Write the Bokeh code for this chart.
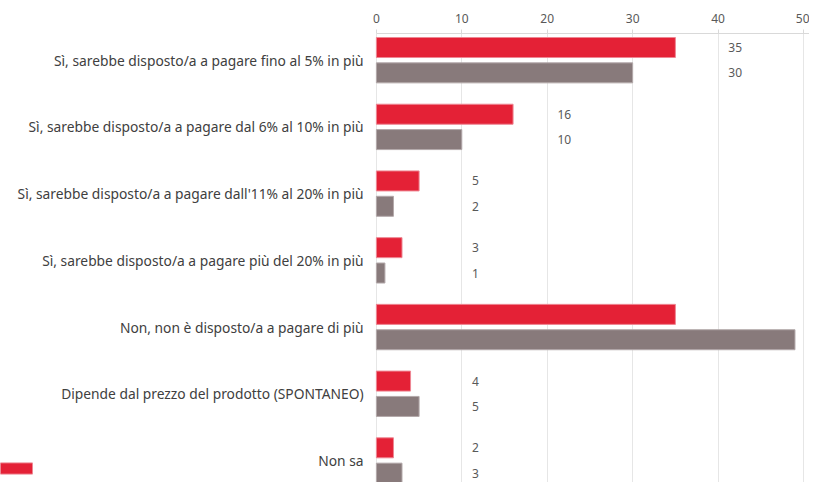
from bokeh.plotting import figure
from bokeh.models import (ColumnDataSource, Range1d, FixedTicker, LinearAxis,
                          Legend, LegendItem)
from bokeh.transform import dodge
from bokeh.core.properties import value
from bokeh.embed import file_html
from bokeh.resources import INLINE

categories = [
    "Sì, sarebbe disposto/a a pagare fino al 5% in più",
    "Sì, sarebbe disposto/a a pagare dal 6% al 10% in più",
    "Sì, sarebbe disposto/a a pagare dall'11% al 20% in più",
    "Sì, sarebbe disposto/a a pagare più del 20% in più",
    "Non, non è disposto/a a pagare di più",
    "Dipende dal prezzo del prodotto (SPONTANEO)",
    "Non sa",
]
red_values = [35, 16, 5, 3, 35, 4, 2]
grey_values = [30, 10, 2, 1, 49, 5, 3]
x_ticks = [0, 10, 20, 30, 40, 50]

RED = "#e42136"
GREY = "#887a7b"
FONT = "Noto Sans"
X_MAX = 50.7

idx = list(range(len(categories)))
src = ColumnDataSource(dict(y=idx, red=red_values, grey=grey_values, cat=categories))

# value labels sit just right of the next gridline; those beyond the axis are not shown
lab = dict(x=[], y=[], t=[], off=[])
for i, (r, g) in enumerate(zip(red_values, grey_values)):
    lx = (max(r, g) // 10 + 1) * 10 + 1.2
    if lx < X_MAX:
        lab["x"] += [lx, lx]
        lab["y"] += [i, i]
        lab["t"] += [str(r), str(g)]
        lab["off"] += [-0.19, 0.19]
lab_src = ColumnDataSource(dict(x=lab["x"], y=[a + b for a, b in zip(lab["y"], lab["off"])],
                                t=lab["t"]))

p = figure(width=809, height=482, output_backend="svg", toolbar_location=None,
           x_range=Range1d(-44, X_MAX), y_range=Range1d(6.33, -0.4),
           x_axis_location=None, y_axis_location=None,
           min_border_left=0, min_border_right=0, min_border_top=33,
           min_border_bottom=0)
p.outline_line_color = None
p.background_fill_color = "white"
p.border_fill_color = "white"

# top axis
ax = LinearAxis(ticker=FixedTicker(ticks=x_ticks), bounds=(0, X_MAX))
ax.axis_line_color = "#d9d9d9"
ax.major_tick_line_color = "#d9d9d9"
ax.major_tick_out = 4
ax.major_tick_in = 0
ax.minor_tick_line_color = None
ax.major_label_text_font = FONT
ax.major_label_text_font_size = "12px"
ax.major_label_text_color = "#595959"
ax.major_label_standoff = 7
p.add_layout(ax, "above")

p.xgrid.ticker = FixedTicker(ticks=x_ticks)
p.xgrid.grid_line_color = "#e6e6e6"
p.ygrid.grid_line_color = None

# category labels
p.text(x=-1.5, y="y", text="cat", source=src,
       text_font=value(FONT), text_font_size="13.8px", text_color="#404040",
       text_baseline="middle", text_align="right")

r_red = p.hbar(y=dodge("y", -0.19, range=p.y_range), left=0, right="red",
               height=0.3, source=src, fill_color=RED, line_color="#ee8793",
               line_width=1)
r_grey = p.hbar(y=dodge("y", 0.19, range=p.y_range), left=0, right="grey",
                height=0.3, source=src, fill_color=GREY, line_color="#b3a9aa",
                line_width=1)

p.text(x="x", y="y", text="t", source=lab_src,
       text_font=value(FONT), text_font_size="12px", text_color="#595959",
       text_baseline="middle", text_align="left")

legend = Legend(items=[LegendItem(label="  ", renderers=[r_red])],
                location=(-4, 7), padding=0, margin=0, spacing=0,
                glyph_width=40, glyph_height=14, label_height=14,
                label_width=0, label_standoff=0,
                border_line_alpha=0, background_fill_alpha=0,
                label_text_font_size="1px")
p.add_layout(legend, "center")

open("out.html", "w").write(file_html(p, INLINE))
